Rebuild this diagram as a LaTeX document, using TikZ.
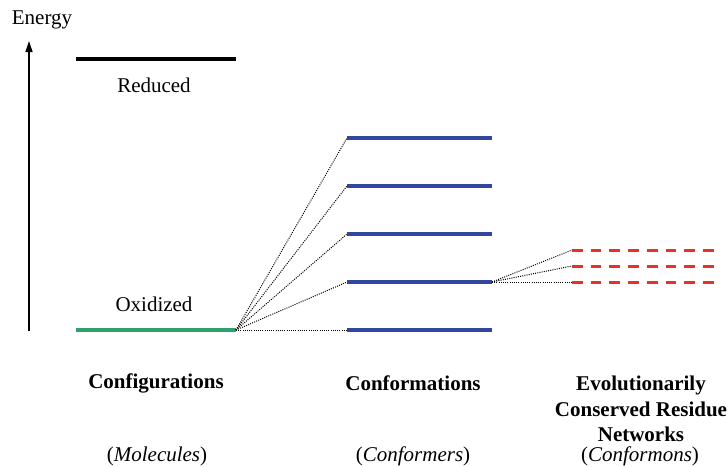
\documentclass[tikz,border=0pt]{standalone}
\usepackage{fontspec}
\setmainfont{Liberation Serif}
\usetikzlibrary{arrows.meta}
\definecolor{lvblue}{RGB}{50,70,160}
\definecolor{lvgreen}{RGB}{50,160,110}
\definecolor{lvred}{RGB}{230,50,40}
\begin{document}
\begin{tikzpicture}[x=1pt,y=-1pt,
  lbl/.style={font=\fontsize{21}{25}\selectfont, inner sep=0pt, anchor=center},
  hd/.style={lbl, font=\fontsize{21}{25.5}\selectfont\bfseries, align=center},
  conn/.style={line width=1pt, black, dash pattern=on 1pt off 1.2pt},
  lev/.style={line width=4pt, lvblue},
  sub/.style={line width=3pt, lvred, dash pattern=on 10.7pt off 8pt}]
\useasboundingbox (0,0) rectangle (728,466);
% axis
\coordinate (ax0) at (29,331);
\coordinate (ax1) at (29,41);
\draw[line width=1.3pt, -{Triangle[length=11pt,width=7pt]}] (ax0) -- (ax1);
\node[lbl] (energy) at (42,20) {Energy};
% configurations
\coordinate (r0) at (76,59); \coordinate (r1) at (236,59);
\draw[line width=3.2pt, black] (r0) -- (r1);
\node[lbl] (reduced) at (154,85) {Reduced};
\coordinate (o0) at (76,330); \coordinate (o1) at (236,330);
\draw[line width=3.5pt, lvgreen] (o0) -- (o1);
\node[lbl] (oxidized) at (154,304) {Oxidized};
% conformations
\foreach \i/\y in {1/138,2/186,3/234,4/282,5/330}{
  \coordinate (c\i a) at (347,\y);
  \coordinate (c\i b) at (492,\y);
  \draw[lev] (c\i a) -- (c\i b);
  \draw[conn] (o1) -- (c\i a);
}
% conformons
\foreach \i/\y in {1/250,2/266,3/282}{
  \coordinate (n\i a) at (572,\y);
  \coordinate (n\i b) at (715,\y);
  \draw[sub] (n\i a) -- (n\i b);
  \draw[conn] (c4b) -- (n\i a);
}
% labels
\node[hd] (h1) at (156,383) {Configurations};
\node[hd] (h2) at (413,383) {Conformations};
\node[hd] (h3) at (641,409) {Evolutionarily\\Conserved Residue\\Networks};
\node[lbl] (s1) at (157,456) {(\textit{Molecules})};
\node[lbl] (s2) at (413,456) {(\textit{Conformers})};
\node[lbl] (s3) at (640,456) {(\textit{Conformons})};
\end{tikzpicture}
\end{document}
